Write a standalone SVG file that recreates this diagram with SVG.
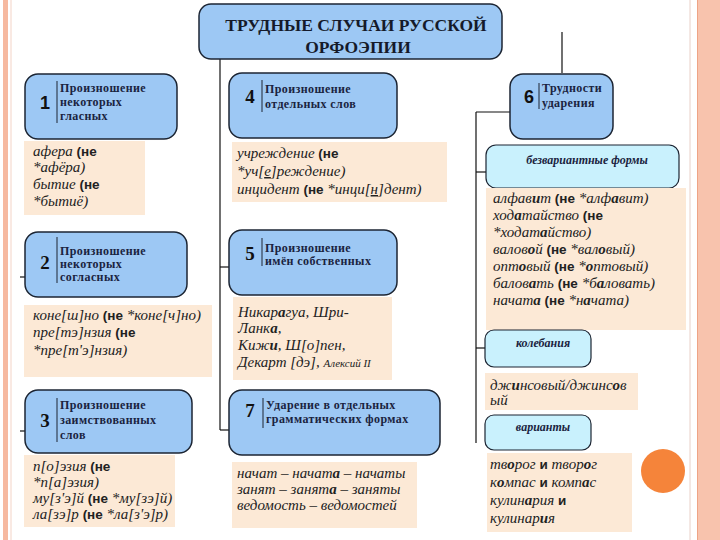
<svg xmlns="http://www.w3.org/2000/svg" width="720" height="540" viewBox="0 0 720 540">
<style>
.nb{fill:#9dc8f4;stroke:#1c2533;stroke-width:1.5}
.tb{fill:#fce9d6}
.cb{fill:#c9f1fd;stroke:#1c2533;stroke-width:1.2}
.sep{stroke:#1c2533;stroke-width:1}
.conn line{stroke:#111;stroke-width:1.2}
.num{font-family:'Liberation Serif','Times New Roman',serif;font-weight:bold;font-size:19px;fill:#111;text-anchor:middle}
.nums{font-family:'Liberation Sans',Arial,sans-serif;font-weight:bold;font-size:18px;fill:#111;text-anchor:middle}
.hd{font-family:'Liberation Serif','Times New Roman',serif;font-weight:bold;font-size:12px;fill:#1a2340;letter-spacing:0.4px}
.it{font-family:'Liberation Serif','Times New Roman',serif;font-style:italic;font-size:15px;fill:#222}
.b{font-family:'Liberation Sans',Arial,sans-serif;font-style:normal;font-weight:bold;font-size:13.5px}
.s{font-weight:bold}
.ci{font-family:'Liberation Serif','Times New Roman',serif;font-style:italic;font-weight:bold;font-size:12px;fill:#1a2340;text-anchor:middle}
.title{font-family:'Liberation Serif','Times New Roman',serif;font-weight:bold;font-size:17.5px;fill:#151a2a;text-anchor:middle}
</style>
<rect width="720" height="540" fill="#ffffff"/>
<rect x="3" y="0" width="5" height="540" fill="#f6b9a0"/>
<line x1="11" y1="0" x2="11" y2="540" stroke="#f3d3c6" stroke-width="1"/>
<line x1="690" y1="0" x2="690" y2="540" stroke="#e8d0c8" stroke-width="1"/>
<rect x="697" y="0" width="23" height="540" fill="#f8c3ad"/>
<line x1="697.5" y1="0" x2="697.5" y2="540" stroke="#eea486" stroke-width="1"/>
<circle cx="663" cy="471" r="22" fill="#f5843a"/>

<g class="conn">
<line x1="220" y1="59" x2="220" y2="430"/>
<line x1="220" y1="267" x2="229" y2="267"/>
<line x1="220" y1="430" x2="229" y2="430"/>
<line x1="20" y1="277" x2="25" y2="277"/>
<line x1="20" y1="431" x2="25" y2="431"/>
<line x1="562" y1="32" x2="562" y2="73"/>
<line x1="476" y1="112" x2="510" y2="112"/>
<line x1="476" y1="112" x2="476" y2="443"/>
<line x1="476" y1="172" x2="486" y2="172"/>
<line x1="476" y1="348" x2="485" y2="348"/>
</g>

<g id="title">
<rect x="199" y="4" width="303" height="55" rx="12" class="nb" stroke-width="2"/>
<text x="356" y="31" class="title">ТРУДНЫЕ СЛУЧАИ РУССКОЙ</text>
<text x="358" y="53" class="title">ОРФОЭПИИ</text>
</g>

<g id="n1">
<rect x="25" y="74" width="152" height="65" rx="13" class="nb"/>
<text x="45" y="109" class="nums">1</text>
<line x1="57" y1="81" x2="57" y2="123" class="sep"/>
<text class="hd"><tspan x="60" y="92">Произношение</tspan><tspan x="60" y="106">некоторых</tspan><tspan x="60" y="120">гласных</tspan></text>
</g>
<g id="t1">
<rect x="24" y="141" width="121" height="74" class="tb"/>
<text class="it"><tspan x="33" y="156">афера <tspan class="b">(не</tspan></tspan><tspan x="33" y="172">*афёра)</tspan><tspan x="33" y="189">бытие <tspan class="b">(не</tspan></tspan><tspan x="33" y="206">*бытиё)</tspan></text>
</g>

<g id="n2">
<rect x="25" y="232" width="162" height="65" rx="13" class="nb"/>
<text x="45" y="269" class="num">2</text>
<line x1="57" y1="237" x2="57" y2="283" class="sep"/>
<text class="hd"><tspan x="60" y="255">Произношение</tspan><tspan x="60" y="268">некоторых</tspan><tspan x="60" y="281">согласных</tspan></text>
</g>
<g id="t2">
<rect x="24" y="305" width="188" height="72" class="tb"/>
<text class="it"><tspan x="33" y="320">коне[ш]но <tspan class="b">(не</tspan> *коне[ч]но)</tspan><tspan x="33" y="337">пре[тэ]нзия <tspan class="b">(не</tspan></tspan><tspan x="33" y="355">*пре[т'э]нзия)</tspan></text>
</g>

<g id="n3">
<rect x="25" y="390" width="167" height="63" rx="13" class="nb"/>
<text x="45" y="427" class="num">3</text>
<line x1="57" y1="398" x2="57" y2="442" class="sep"/>
<text class="hd"><tspan x="60" y="409">Произношение</tspan><tspan x="60" y="424">заимствованных</tspan><tspan x="60" y="439">слов</tspan></text>
</g>
<g id="t3">
<rect x="24" y="455" width="151" height="72" class="tb"/>
<text class="it"><tspan x="33" y="471">п[о]эзия <tspan class="b">(не</tspan></tspan><tspan x="33" y="487">*п[а]эзия)</tspan><tspan x="33" y="503">му[з'э]й <tspan class="b">(не</tspan> *му[зэ]й)</tspan><tspan x="33" y="519">ла[зэ]р <tspan class="b">(не</tspan> *ла[з'э]р)</tspan></text>
</g>

<g id="n4">
<rect x="229" y="73" width="168" height="65" rx="13" class="nb"/>
<text x="250" y="103" class="num">4</text>
<line x1="262" y1="80" x2="262" y2="112" class="sep"/>
<text class="hd"><tspan x="265" y="93">Произношение</tspan><tspan x="265" y="108">отдельных слов</tspan></text>
</g>
<g id="t4">
<rect x="232" y="142" width="215" height="60" class="tb"/>
<text class="it"><tspan x="237" y="158">учреждение <tspan class="b">(не</tspan></tspan><tspan x="237" y="176">*уч[<tspan text-decoration="underline">е</tspan>]реждение)</tspan><tspan x="237" y="194">инцидент <tspan class="b">(не</tspan> *инци[<tspan text-decoration="underline">н</tspan>]дент)</tspan></text>
</g>

<g id="n5">
<rect x="229" y="230" width="168" height="65" rx="13" class="nb"/>
<text x="250" y="260" class="num">5</text>
<line x1="262" y1="238" x2="262" y2="266" class="sep"/>
<text class="hd"><tspan x="265" y="252">Произношение</tspan><tspan x="265" y="265">имён собственных</tspan></text>
</g>
<g id="t5">
<rect x="233" y="297" width="159" height="83" class="tb"/>
<text class="it"><tspan x="238" y="317">Никар<tspan class="s">а</tspan>гуа, Шри-</tspan><tspan x="238" y="333">Ланк<tspan class="s">а</tspan>,</tspan><tspan x="238" y="350">Киж<tspan class="s">и</tspan>, Ш[о]пен,</tspan><tspan x="238" y="367">Декарт [дэ], <tspan font-size="11">Алексий II</tspan></tspan></text>
</g>

<g id="n7">
<rect x="229" y="390" width="211" height="65" rx="13" class="nb"/>
<text x="250" y="417" class="num">7</text>
<line x1="263" y1="398" x2="263" y2="428" class="sep"/>
<text class="hd"><tspan x="266" y="409">Ударение в отдельных</tspan><tspan x="266" y="423">грамматических формах</tspan></text>
</g>
<g id="t7">
<rect x="232" y="462" width="185" height="66" class="tb"/>
<text class="it"><tspan x="237" y="478">начат – начат<tspan class="s">а</tspan> – начаты</tspan><tspan x="237" y="494">занят – занят<tspan class="s">а</tspan> – заняты</tspan><tspan x="237" y="510">ведомость – ведомостей</tspan></text>
</g>

<g id="n6">
<rect x="510" y="74" width="103" height="65" rx="13" class="nb"/>
<text x="529" y="103" class="nums">6</text>
<line x1="539" y1="83" x2="539" y2="109" class="sep"/>
<text class="hd"><tspan x="542" y="92">Трудности</tspan><tspan x="542" y="107">ударения</tspan></text>
</g>

<g id="c1">
<rect x="486" y="145" width="193" height="43" rx="10" class="cb"/>
<text x="587" y="164" class="ci">безвариантные формы</text>
</g>
<g id="t6">
<rect x="486" y="188" width="200" height="142" class="tb"/>
<text class="it"><tspan x="493" y="203">алфав<tspan class="s">и</tspan>т <tspan class="b">(не</tspan> *алф<tspan class="s">а</tspan>вит)</tspan><tspan x="493" y="220">ход<tspan class="s">а</tspan>тайство <tspan class="b">(не</tspan></tspan><tspan x="493" y="237">*ходат<tspan class="s">а</tspan>йство)</tspan><tspan x="493" y="254">валов<tspan class="s">о</tspan>й <tspan class="b">(не</tspan> *вал<tspan class="s">о</tspan>вый)</tspan><tspan x="493" y="271">опт<tspan class="s">о</tspan>вый <tspan class="b">(не</tspan> *<tspan class="s">о</tspan>птовый)</tspan><tspan x="493" y="288">балов<tspan class="s">а</tspan>ть <tspan class="b">(не</tspan> *б<tspan class="s">а</tspan>ловать)</tspan><tspan x="493" y="305">начат<tspan class="s">а</tspan> <tspan class="b">(не</tspan> *н<tspan class="s">а</tspan>чата)</tspan></text>
</g>

<g id="c2">
<rect x="485" y="330" width="106" height="37" rx="9" class="cb"/>
<text x="543" y="347" class="ci">колебания</text>
</g>
<g id="t8">
<rect x="485" y="373" width="153" height="37" class="tb"/>
<text class="it"><tspan x="490" y="390">дж<tspan class="s">и</tspan>нсовый/джинс<tspan class="s">о</tspan>в</tspan><tspan x="490" y="405">ый</tspan></text>
</g>

<g id="c3">
<rect x="485" y="415" width="106" height="35" rx="9" class="cb"/>
<text x="543" y="431" class="ci">варианты</text>
</g>
<g id="t9">
<rect x="487" y="453" width="145" height="79" class="tb"/>
<text class="it"><tspan x="490" y="469">тв<tspan class="s">о</tspan>рог <tspan class="b">и</tspan> твор<tspan class="s">о</tspan>г</tspan><tspan x="490" y="487">к<tspan class="s">о</tspan>мпас <tspan class="b">и</tspan> комп<tspan class="s">а</tspan>с</tspan><tspan x="490" y="505">кулин<tspan class="s">а</tspan>рия <tspan class="b">и</tspan></tspan><tspan x="490" y="523">кулинар<tspan class="s">и</tspan>я</tspan></text>
</g>
</svg>
